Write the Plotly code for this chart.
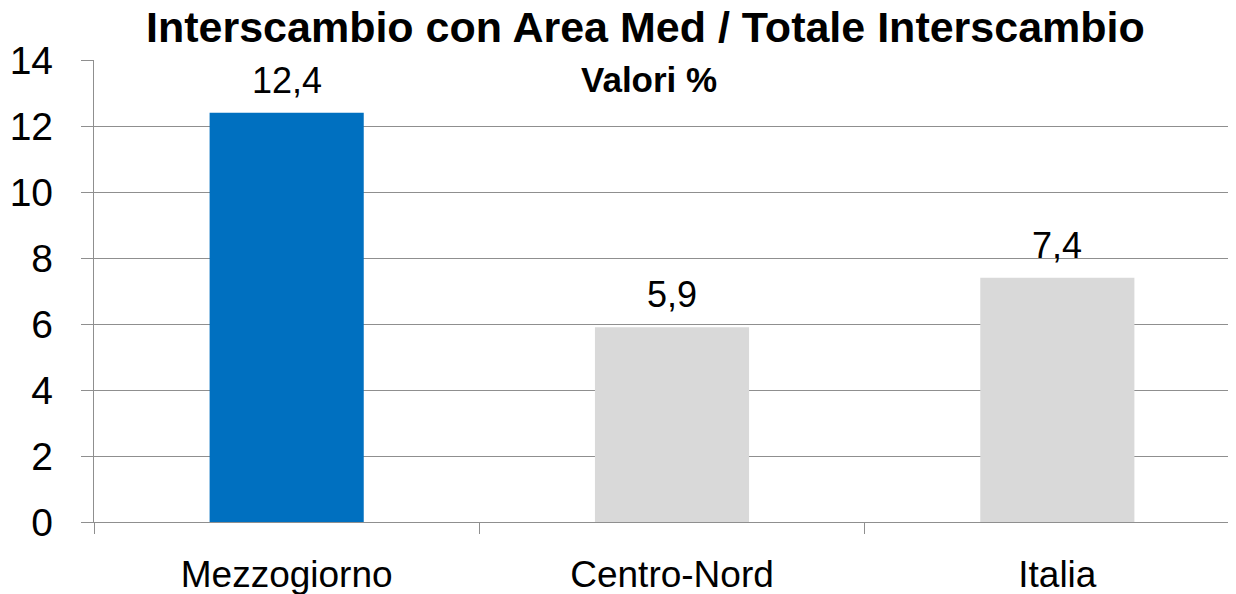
import plotly.graph_objects as go

categories = ["Mezzogiorno", "Centro-Nord", "Italia"]
values = [12.4, 5.9, 7.4]
bar_colors = ["#0070C0", "#D9D9D9", "#D9D9D9"]
y_ticks = [0, 2, 4, 6, 8, 10, 12, 14]

title_text = "Interscambio con Area Med / Totale Interscambio"
subtitle_text = "Valori %"

FONT = "Liberation Sans, Arial, sans-serif"
GRID = "#8F8F8F"

# page body has an 8px margin, so the figure is drawn 8px smaller
W, H = 1228, 586
L, T, B = 86, 52, 72
PW, PH = W - L, H - T - B


def px_to_paper(px, py):
    return (px - L) / PW, (H - B - py) / PH


fig = go.Figure()
fig.add_trace(go.Bar(
    x=categories, y=values,
    marker=dict(color=bar_colors, line=dict(width=0)),
    hoverinfo="skip",
))

for c, v in zip(categories, values):
    fig.add_annotation(
        x=c, y=v, xref="x", yref="y",
        text=f"{v:.1f}".replace(".", ","),
        showarrow=False, yanchor="bottom", yshift=10,
        font=dict(family=FONT, size=36, color="#000000"),
    )

tx, ty = px_to_paper(637, 19)
fig.add_annotation(
    x=tx, y=ty, xref="paper", yref="paper",
    text=f"<b>{title_text}</b>", showarrow=False,
    xanchor="center", yanchor="middle",
    font=dict(family=FONT, size=43, color="#000000"),
)
sx, sy = px_to_paper(641, 72)
fig.add_annotation(
    x=sx, y=sy, xref="paper", yref="paper",
    text=f"<b>{subtitle_text}</b>", showarrow=False,
    xanchor="center", yanchor="middle",
    font=dict(family=FONT, size=35, color="#000000"),
)

fig.update_layout(
    width=W, height=H,
    margin=dict(l=L, r=0, t=T, b=B, pad=0, autoexpand=False),
    paper_bgcolor="white", plot_bgcolor="white",
    bargap=0.6, showlegend=False,
    font=dict(family=FONT, color="#000000"),
)
fig.update_xaxes(
    type="category", automargin=False,
    range=[-0.5, 2.5 - 14 / 385],
    tickson="boundaries", ticks="outside", ticklen=11, tickwidth=1.3, tickcolor=GRID,
    showline=True, linecolor=GRID, linewidth=1.3,
    showgrid=False,
    tickfont=dict(family=FONT, size=37, color="#000000"),
    ticklabelstandoff=19,
)
fig.update_yaxes(
    automargin=False,
    range=[0, 14], tickvals=y_ticks,
    ticks="outside", ticklen=12, tickwidth=1.3, tickcolor=GRID,
    showline=True, linecolor=GRID, linewidth=1.3,
    showgrid=True, gridcolor=GRID, gridwidth=1.3,
    zeroline=False,
    tickfont=dict(family=FONT, size=39, color="#000000"),
    ticklabelstandoff=20,
)

fig.write_html("out.html")
